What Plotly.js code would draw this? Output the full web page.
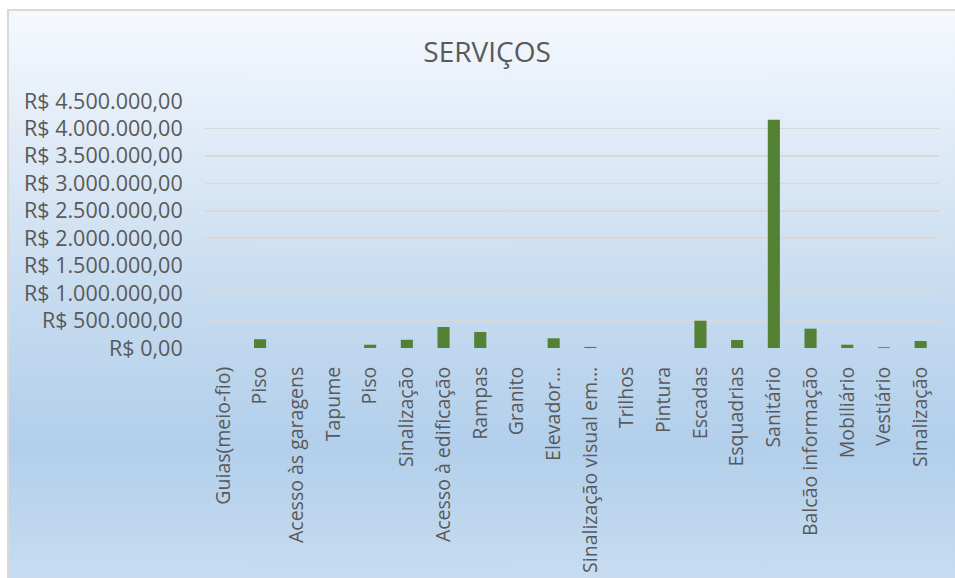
<!DOCTYPE html>
<html>
<head>
<meta charset="utf-8">
<script src="https://cdn.plot.ly/plotly-3.0.1.min.js"></script>
<style>
  html, body { margin: 0; padding: 0; width: 955px; height: 578px; overflow: hidden; background: #ffffff; }
  #bg { position: absolute; left: 7px; top: 9px; width: 960px; height: 580px;
        border-left: 2px solid #d9d9d9; border-top: 2px solid #d9d9d9;
        background: linear-gradient(to bottom, #f5f9fe 0%, #e2ecf7 20%, #c6dbf0 50%, #b2cfeb 75%, #c9ddf1 100%); }
  #chart { position: absolute; left: 0; top: 0; width: 955px; height: 578px; }
</style>
</head>
<body>
<div id="bg"></div>
<div id="chart"></div>
<script>
const categories = [
  "Guias(meio-fio)", "Piso", "Acesso às garagens", "Tapume", "Piso",
  "Sinalização", "Acesso à edificação", "Rampas", "Granito", "Elevador…",
  "Sinalização visual em…", "Trilhos", "Pintura", "Escadas", "Esquadrias",
  "Sanitário", "Balcão informação", "Mobiliário", "Vestiário", "Sinalização"
];
const values = [
  0, 160000, 0, 0, 60000,
  150000, 383000, 292000, 0, 177000,
  20000, 0, 0, 497000, 146000,
  4157000, 352000, 60000, 15000, 128000
];
const yTickVals = [0, 500000, 1000000, 1500000, 2000000, 2500000, 3000000, 3500000, 4000000, 4500000];
const yTickText = ["R$ 0,00", "R$ 500.000,00", "R$ 1.000.000,00", "R$ 1.500.000,00", "R$ 2.000.000,00",
  "R$ 2.500.000,00", "R$ 3.000.000,00", "R$ 3.500.000,00", "R$ 4.000.000,00", "R$ 4.500.000,00"];

const xIdx = categories.map((c, i) => i);
const FONT = "'Open Sans', sans-serif";
const TXT = "#595959";

Plotly.newPlot("chart", [{
  type: "bar",
  x: xIdx,
  y: values,
  marker: { color: "#548235", line: { width: 0 } },
  hoverinfo: "skip"
}], {
  width: 955, height: 578,
  margin: { l: 205, r: 16, t: 101, b: 230 },
  paper_bgcolor: "rgba(0,0,0,0)",
  plot_bgcolor: "rgba(0,0,0,0)",
  bargap: 0.67,
  showlegend: false,
  title: { text: "SERVIÇOS", x: 0.51, xanchor: "center", y: 0.91, yanchor: "middle",
           font: { family: FONT, size: 28, color: TXT } },
  xaxis: {
    range: [-0.5, 19.5],
    tickmode: "array", tickvals: xIdx, ticktext: categories,
    tickangle: -90,
    ticks: "outside", ticklen: 10, tickcolor: "rgba(0,0,0,0)",
    showgrid: false, zeroline: false, showline: false,
    tickfont: { family: FONT, size: 19.5, color: TXT }
  },
  yaxis: {
    range: [0, 4500000],
    tickmode: "array", tickvals: yTickVals, ticktext: yTickText,
    ticks: "outside", ticklen: 17, tickcolor: "rgba(0,0,0,0)",
    showgrid: true, gridcolor: "#d9d9d9", gridwidth: 1.5,
    zeroline: false, showline: false,
    tickfont: { family: FONT, size: 21.5, color: TXT }
  }
}, { staticPlot: true, displayModeBar: false });
</script>
</body>
</html>
